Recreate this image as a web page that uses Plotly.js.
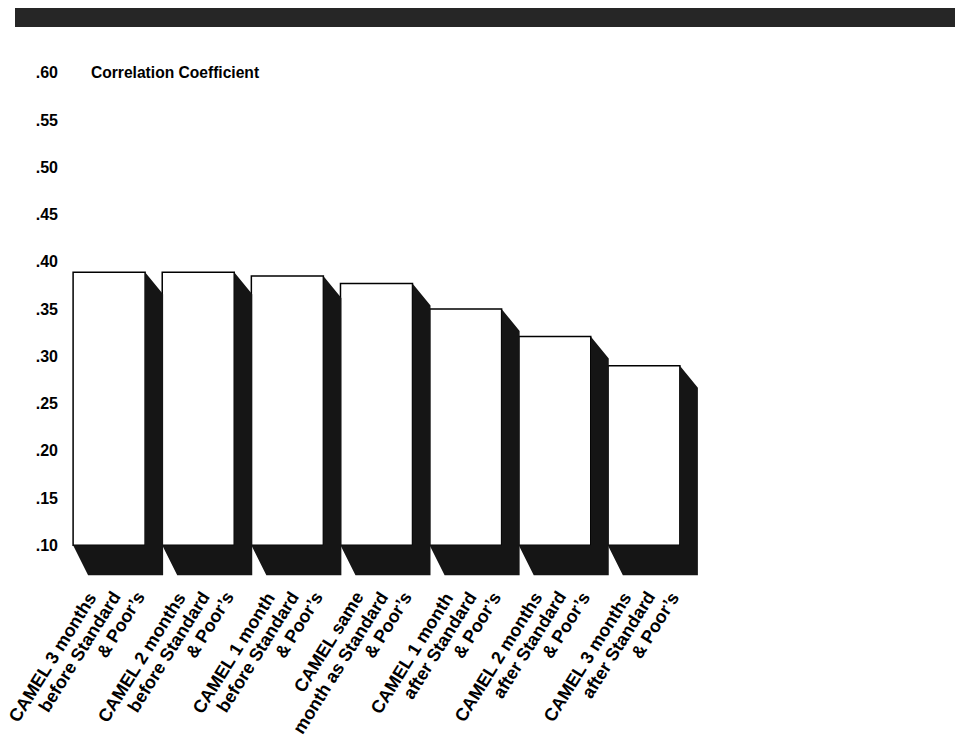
<!DOCTYPE html>
<html>
<head>
<meta charset="utf-8">
<script src="https://cdn.plot.ly/plotly-3.0.1.min.js"></script>
<style>html,body{margin:0;padding:0;background:#fff;}#chart{width:955px;height:740px;}</style>
</head>
<body>
<div id="chart"></div>
<script>
// ---- data ----
const categories = [
  "CAMEL 3 months<br>before Standard<br>& Poor’s",
  "CAMEL 2 months<br>before Standard<br>& Poor’s",
  "CAMEL 1 month<br>before Standard<br>& Poor’s",
  "CAMEL same<br>month as Standard<br>& Poor’s",
  "CAMEL 1 month<br>after Standard<br>& Poor’s",
  "CAMEL 2 months<br>after Standard<br>& Poor’s",
  "CAMEL 3 months<br>after Standard<br>& Poor’s"
];
const correlation = [0.389, 0.389, 0.385, 0.377, 0.350, 0.321, 0.290];
const yTickVals = [0.10, 0.15, 0.20, 0.25, 0.30, 0.35, 0.40, 0.45, 0.50, 0.55, 0.60];
const yTickText = [".10", ".15", ".20", ".25", ".30", ".35", ".40", ".45", ".50", ".55", ".60"];
const axisTitle = "Correlation Coefficient";
const baseValue = 0.10;

// ---- layout geometry ----
const W = 955, H = 740;
const margin = {l: 69, r: 222, t: 54, b: 157};
const xRange = [-0.45, 7.0];
const yRange = [0.06, 0.62];
const plotW = W - margin.l - margin.r;
const plotH = H - margin.t - margin.b;
const pxPerX = plotW / (xRange[1] - xRange[0]);
const pxPerY = plotH / (yRange[1] - yRange[0]);
const barWidth = 0.808;
// 3D extrusion offsets in pixels
const sideDx = 18, sideDy = 22, bottomDx = 15, bottomDy = 30;
// label placement (pixels)
const labelTopPx = 587;
const labelRightShiftPx = 5;
const lineShiftPx = 24;
const labelAngle = -58;

const xs = categories.map((_, i) => i);
const font = {family: "Liberation Sans, Arial, Helvetica, sans-serif", color: "#000"};

const traces = [];
xs.forEach((x, i) => {
  const v = correlation[i];
  const x0 = x - barWidth / 2, x1 = x + barWidth / 2;
  const sdx = sideDx / pxPerX, sdy = sideDy / pxPerY;
  const bdx = bottomDx / pxPerX, bdy = bottomDy / pxPerY;
  traces.push({
    type: "scatter", mode: "lines", fill: "toself",
    fillcolor: "#151515", line: {width: 0, color: "#151515"},
    x: [x1, x1 + sdx, x1 + sdx, x0 + bdx, x0, x1, x1],
    y: [v, v - sdy, baseValue - bdy, baseValue - bdy, baseValue, baseValue, v],
    hoverinfo: "skip", showlegend: false
  });
});
traces.push({
  type: "bar", x: xs, y: correlation.map(v => v - baseValue), base: baseValue,
  width: barWidth, marker: {color: "#ffffff", line: {color: "#000", width: 1.5}},
  hoverinfo: "skip", showlegend: false
});

const annotations = [];
categories.forEach((c, i) => {
  const lines = c.split("<br>");
  const n = lines.length;
  lines.forEach((ln, k) => {
    annotations.push({
      text: ln, xref: "x", yref: "paper",
      x: i + barWidth / 2 + (labelRightShiftPx - (n - 1 - k) * lineShiftPx) / pxPerX,
      y: (H - margin.b - labelTopPx) / plotH,
      xanchor: "right", yanchor: "top", textangle: labelAngle,
      showarrow: false, borderpad: 0,
      font: Object.assign({size: 18, weight: "bold"}, font)
    });
  });
});
annotations.push({
  text: axisTitle, xref: "paper", yref: "y",
  x: (89 - margin.l) / plotW, y: 0.60, xanchor: "left", yanchor: "middle",
  showarrow: false, font: Object.assign({size: 15.6, weight: "bold"}, font)
});

const layout = {
  width: W, height: H, margin: margin,
  paper_bgcolor: "#fff", plot_bgcolor: "#fff",
  showlegend: false, bargap: 0,
  xaxis: {range: xRange, showgrid: false, zeroline: false, showline: false,
          showticklabels: false, ticks: "", fixedrange: true},
  yaxis: {range: yRange, showgrid: false, zeroline: false, showline: false,
          tickvals: yTickVals, ticktext: yTickText, ticks: "",
          ticklabelstandoff: 10,
          tickfont: Object.assign({size: 16, weight: "bold"}, font), fixedrange: true},
  annotations: annotations,
  shapes: [{
    type: "rect", xref: "paper", yref: "paper", layer: "above",
    x0: (15 - margin.l) / plotW, x1: (W - margin.l) / plotW,
    y0: (H - margin.b - 27) / plotH, y1: (H - margin.b - 8) / plotH,
    fillcolor: "#262626", line: {width: 0}
  }]
};

Plotly.newPlot("chart", traces, layout, {displayModeBar: false, staticPlot: true});
</script>
</body>
</html>
